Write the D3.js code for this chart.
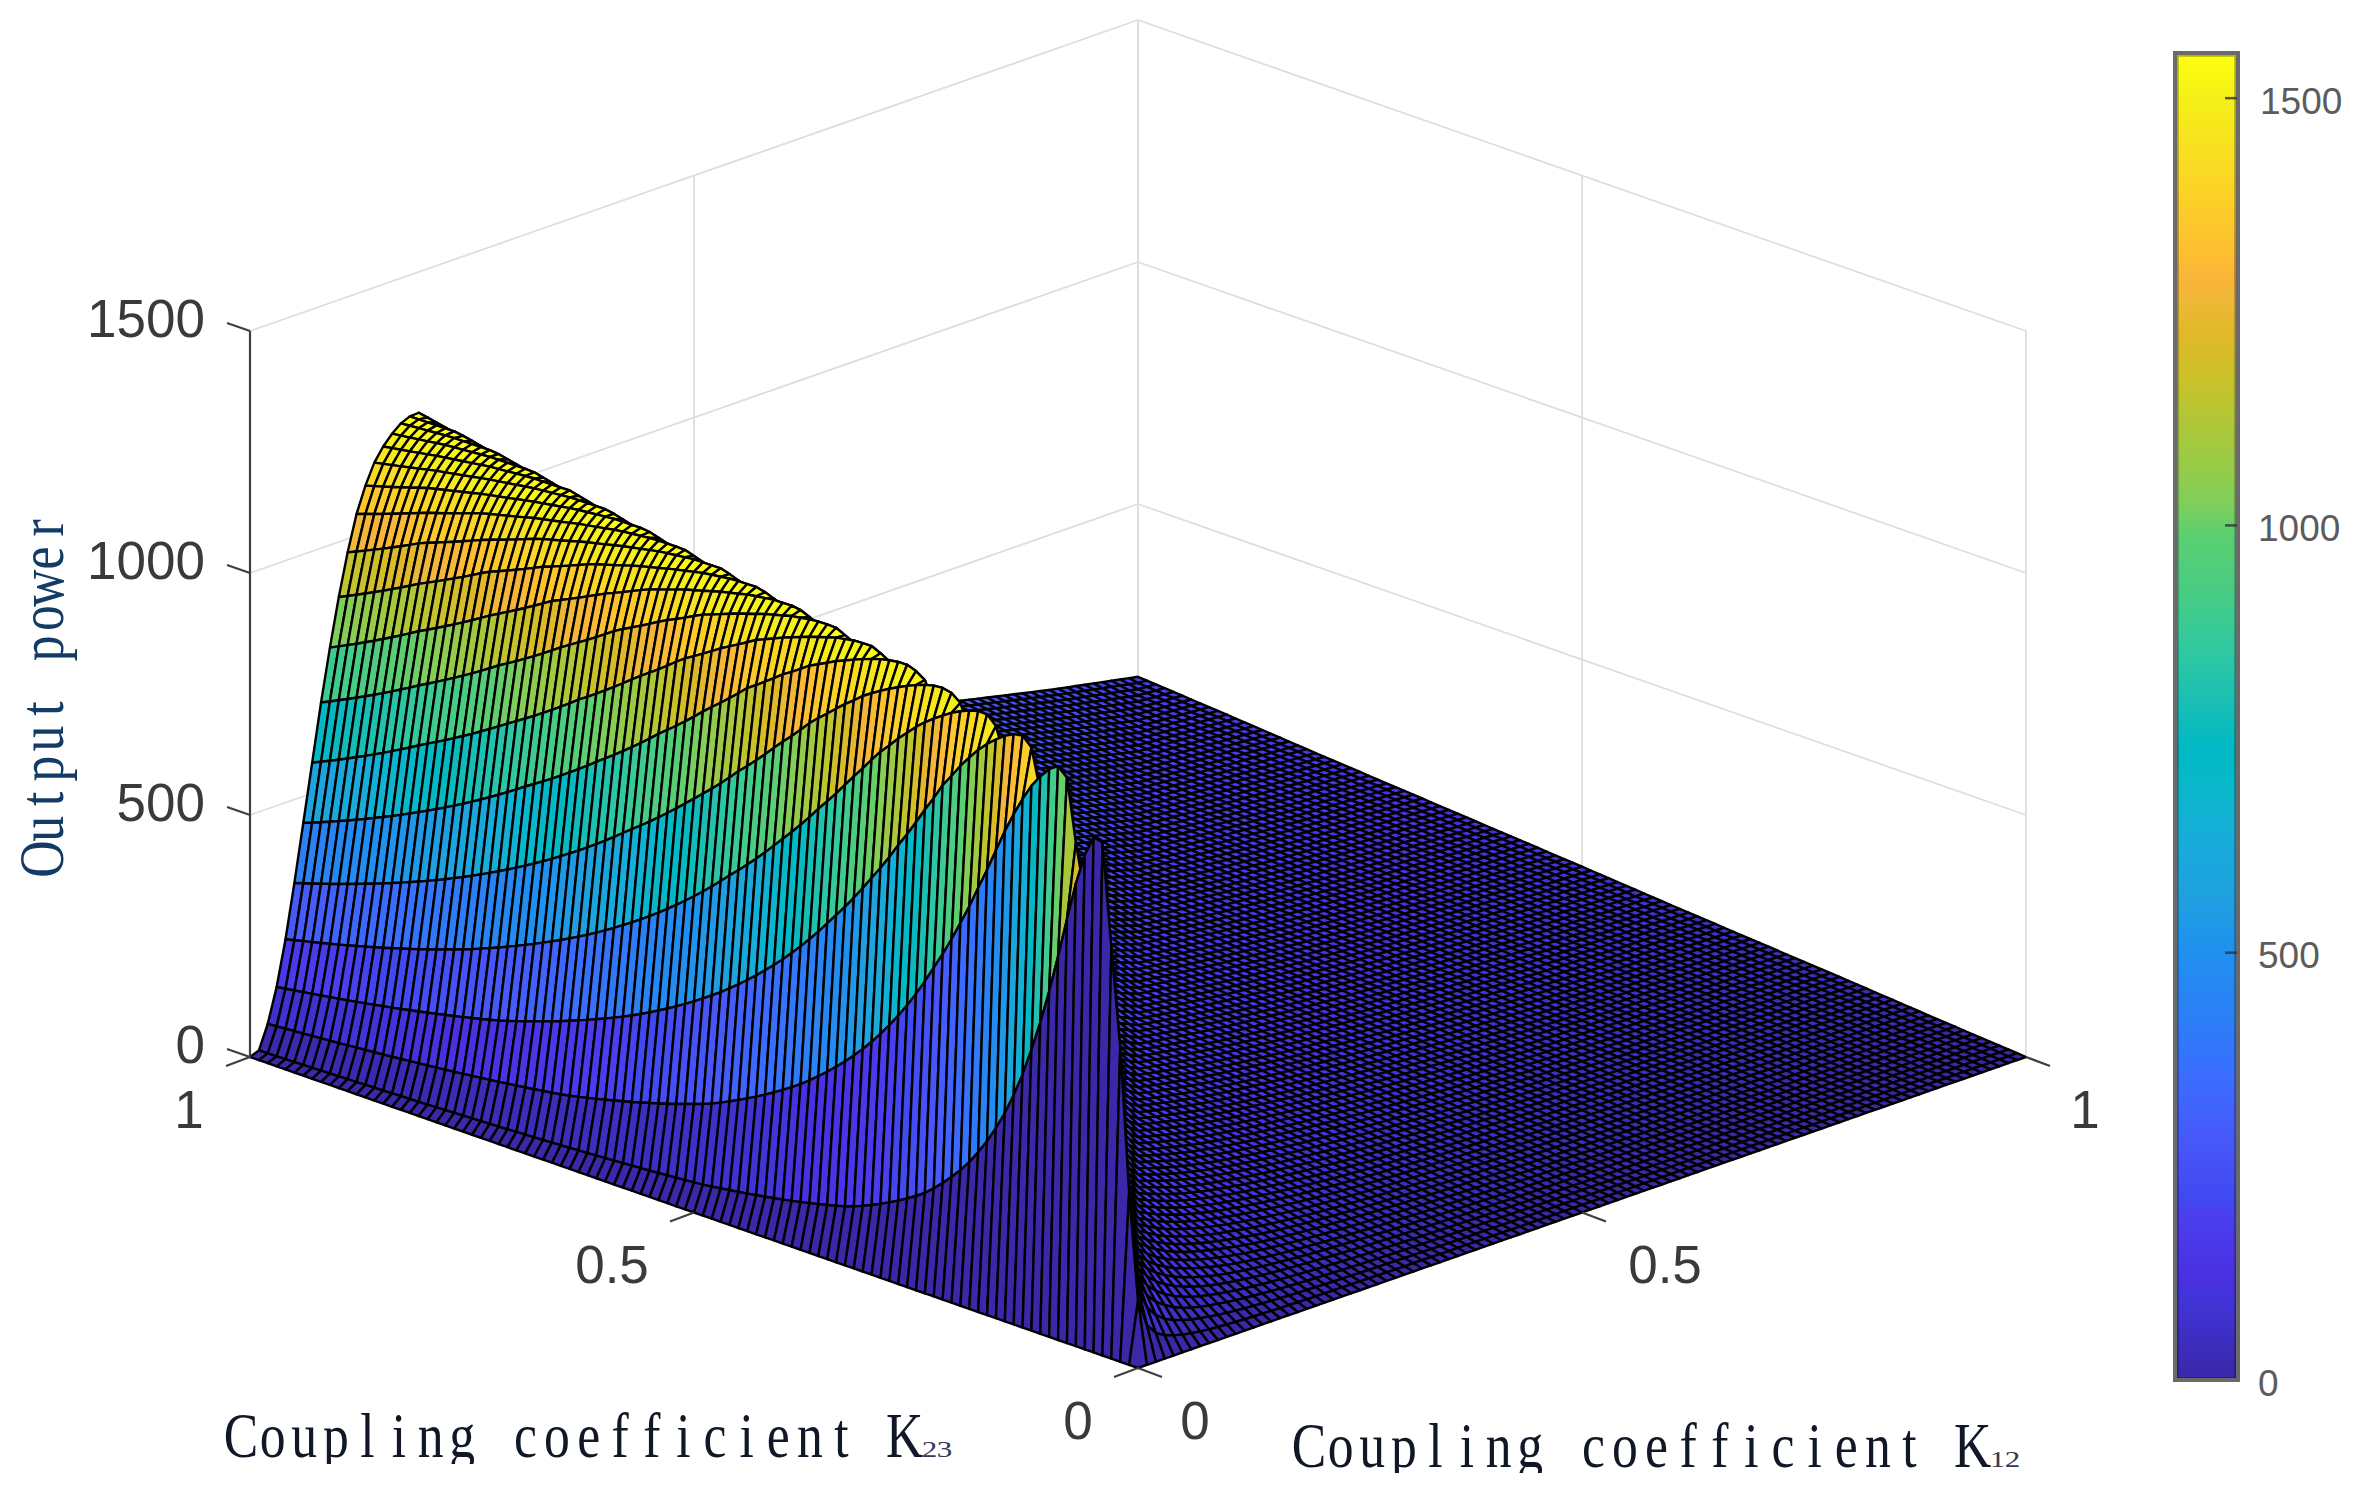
<!DOCTYPE html>
<html>
<head>
<meta charset="utf-8">
<script src="https://cdnjs.cloudflare.com/ajax/libs/d3/7.8.5/d3.min.js"></script>
<style>html,body{margin:0;padding:0;background:#fff}svg{display:block}</style>
</head>
<body>
<svg id="chart" width="2357" height="1490"></svg>
<script>
// NOTE: the 101x101 mesh is NOT read cell by cell. The arrays below are hand-read from the
// reference; the mesh between these knots is resampled from them for drawing.
const meshSteps = 100;
const ratioKnots = [0,.01,.02,.03,.04,.05,.06,.07,.08,.09,.10,.11,.12,.13,.14,.15,.16,.17,.18,.19,.20,.225,.29,.33,.45,.5,.6,.7,.8,.9,1];
const ratioPower = [0,8,58,128,221,330,445,563,681,788,886,972,1045,1097,1138,1165,1185,1200,1208,1209,1190,1040,808,732,430,390,320,265,222,180,143];
const farEdgeK23 = [0,.1,.2,.3,.4,.5,.6,.7,.8,.9,1];
const farEdgePower = [0,14,29,43,57,72,86,100,114,129,143];
const ridgeK12 = [0,.01,.02,.03,.04,.06,1];
const ridgeFactor = [.88,.88,.96,.98,.985,1,1];
const zTicks = [0,500,1000,1500];
const kTicks = [0,0.5,1];
const kTickLabels = ["0","0.5","1"];
const colorbarTicks = [0,500,1000,1500];
const colorValues = [0,94,117,195,210,273,351,429,500,565,643,702,737,795,854,913,991,1030,1068,1108,1147,1185,1225,1263,1287,1325,1384,1442,1500,1554];
const colorHex = ["#3a28a8","#4034d8","#4a30e0","#4a3ff0","#4048f0","#4856f8","#3b6cff","#2b80f5","#2090f0","#1fa0e0","#15aed8","#08b8c8","#00b8c4","#1abfb4","#2fc8a0","#45cc88","#5ccf70","#82cf58","#96cb48","#a8c83c","#bcc52f","#d0bf28","#e0b828","#f0b838","#f8b438","#fdc030","#fcd028","#f8e020","#f5f018","#ffff10"];
const zPeak = 1209, colorMax = 1554;

const svg = d3.select("#chart");
const px = d3.scaleLinear().domain([0,1]).range([0,888]);
const py = d3.scaleLinear().domain([0,1]).range([0,311]);
const pz = d3.scaleLinear().domain([0,1500]).range([0,726]);
const project = (a,b,z) => [1138 + px(a) - px(b), 1368 - py(a) - py(b) - pz(z)];

const fRatio = d3.scaleLinear().domain(ratioKnots).range(ratioPower).clamp(true);
const fFar = d3.scaleLinear().domain(farEdgeK23).range(farEdgePower).clamp(true);
const fRidge = d3.scaleLinear().domain(ridgeK12).range(ridgeFactor).clamp(true);
const power = (a,b) => {
  if (a === 0 || b === 0) return 0;
  const v = a <= b ? fRatio(a/b) : fFar(b/a);
  return v * fRidge(a);
};
const colormap = d3.scaleLinear().domain(colorValues).range(colorHex).interpolate(d3.interpolateRgb).clamp(true);
const colorOfZ = z => colormap(z * colorMax / zPeak);

// walls
const wallColor = "#dedede";
const gGrid = svg.append("g").attr("fill","none").attr("stroke",wallColor).attr("stroke-width",1.8);
const seg = (g,p,q) => g.append("line").attr("x1",p[0]).attr("y1",p[1]).attr("x2",q[0]).attr("y2",q[1]);
zTicks.forEach(z => {
  seg(gGrid, project(0,1,z), project(1,1,z));
  seg(gGrid, project(1,1,z), project(1,0,z));
});
kTicks.forEach(k => {
  seg(gGrid, project(k,1,0), project(k,1,1500));
  seg(gGrid, project(1,k,0), project(1,k,1500));
});

// surface, painted back to front
const cells = [];
for (let i = meshSteps-1; i >= 0; i--) {
  for (let j = meshSteps-1; j >= 0; j--) {
    const a0=i/meshSteps,a1=(i+1)/meshSteps,b0=j/meshSteps,b1=(j+1)/meshSteps;
    cells.push({
      pts:[project(a0,b0,power(a0,b0)),project(a1,b0,power(a1,b0)),project(a1,b1,power(a1,b1)),project(a0,b1,power(a0,b1))],
      c:colorOfZ(power(a0,b0))
    });
  }
}
const quad = d3.line().curve(d3.curveLinearClosed);
svg.append("g").attr("stroke","#000").attr("stroke-width",2.4).attr("stroke-linejoin","round")
  .selectAll("path").data(cells).join("path")
  .attr("d",d=>quad(d.pts)).attr("fill",d=>d.c);

// axes
const axisColor = "#3f3f3f";
const gAxis = svg.append("g").attr("stroke",axisColor).attr("stroke-width",2.2).attr("fill","none");
seg(gAxis, project(0,1,0), project(0,1,1500));
zTicks.forEach(z => { const p=project(0,1,z); seg(gAxis,p,[p[0]-23,p[1]-8]); });
kTicks.forEach(k => {
  const p=project(0,k,0); seg(gAxis,p,[p[0]-24,p[1]+9]);
  const q=project(k,0,0); seg(gAxis,q,[q[0]+24,q[1]+9]);
});

const tickFont = "'Liberation Sans',Arial,sans-serif";
const gLab = svg.append("g").attr("font-family",tickFont).attr("font-size",53).attr("fill","#3a3a3a").attr("dominant-baseline","central");
zTicks.forEach(z => {
  const p=project(0,1,z);
  gLab.append("text").attr("x",205).attr("y",p[1]-12.5).attr("text-anchor","end").text(d3.format("d")(z));
});
const k23LabelX = d3.scaleLinear().domain(kTicks).range([1078,612,189]);
const k12LabelX = d3.scaleLinear().domain(kTicks).range([1195,1665,2085]);
const kLabelY = d3.scaleLinear().domain(kTicks).range([1420,1264,1109]);
kTicks.forEach((k,i) => {
  gLab.append("text").attr("x",k23LabelX(k)).attr("y",kLabelY(k)).attr("text-anchor","middle").text(kTickLabels[i]);
  gLab.append("text").attr("x",k12LabelX(k)).attr("y",kLabelY(k)).attr("text-anchor","middle").text(kTickLabels[i]);
});

// axis titles
const serif = "'Liberation Serif','Times New Roman',serif";
const sx = 0.82;
function title(txt, sub, startX, pitch, baseline, clipY, id){
  const clip = svg.append("clipPath").attr("id",id);
  clip.append("rect").attr("x",0).attr("y",baseline-60).attr("width",2357).attr("height",clipY-baseline+60);
  const g = svg.append("g").attr("clip-path",`url(#${id})`);
  const xs = Array.from(txt,(c,i)=>(startX+pitch*i)/sx).join(" ");
  g.append("text").attr("transform",`translate(0,${baseline}) scale(${sx},1)`).attr("x",xs)
    .attr("text-anchor","middle").attr("font-family",serif).attr("font-size",63).attr("fill","#101828").text(txt);
  const kx = startX+pitch*(txt.length-1);
  const sxs = [(kx+25)/1.35,(kx+40)/1.35].join(" ");
  g.append("text").attr("transform",`translate(0,${baseline}) scale(1.35,1)`).attr("x",sxs)
    .attr("text-anchor","middle").attr("font-family",serif).attr("font-size",23).attr("fill","#333a55").text(sub);
}
title("Coupling coefficient K","23",241,31.6,1457,1464,"c1");
title("Coupling coefficient K","12",1309,31.6,1467,1473,"c2");
{
  const t="Output power";
  svg.append("text").attr("transform",`translate(63,859) rotate(-90) scale(${sx},1)`)
    .attr("x",Array.from(t,(c,i)=>i*30.1/sx).join(" "))
    .attr("text-anchor","middle").attr("font-family",serif).attr("font-size",63).attr("fill","#123c66").text(t);
}

// colorbar
const cbY = d3.scaleLinear().domain([0,colorMax]).range([1380,52]);
const defs = svg.append("defs");
const grad = defs.append("linearGradient").attr("id","cb").attr("x1",0).attr("x2",0).attr("y1",1).attr("y2",0);
colorValues.forEach((v,i)=>grad.append("stop").attr("offset",v/colorMax).attr("stop-color",colorHex[i]));
svg.append("rect").attr("x",2175).attr("y",53).attr("width",63).attr("height",1327).attr("fill","url(#cb)");
svg.append("rect").attr("x",2177.5).attr("y",55.5).attr("width",58).attr("height",1323).attr("fill","none").attr("stroke","rgba(0,0,0,.3)").attr("stroke-width",2.5);
svg.append("rect").attr("x",2175).attr("y",53).attr("width",63).attr("height",1327).attr("fill","none").attr("stroke","#6a6a6a").attr("stroke-width",4);
const gCb = svg.append("g");
colorbarTicks.slice(1).forEach(v=>{
  gCb.append("line").attr("x1",2225).attr("x2",2237).attr("y1",cbY(v)).attr("y2",cbY(v)).attr("stroke","#333").attr("stroke-width",2.5).attr("opacity",.8);
});
colorbarTicks.forEach(v=>{
  gCb.append("text").attr("x",v===1500?2260:2258).attr("y",cbY(v)+3).attr("dominant-baseline","central")
    .attr("font-family",tickFont).attr("font-size",37).attr("fill","#5c5c5c").text(d3.format("d")(v));
});
</script>
</body>
</html>
